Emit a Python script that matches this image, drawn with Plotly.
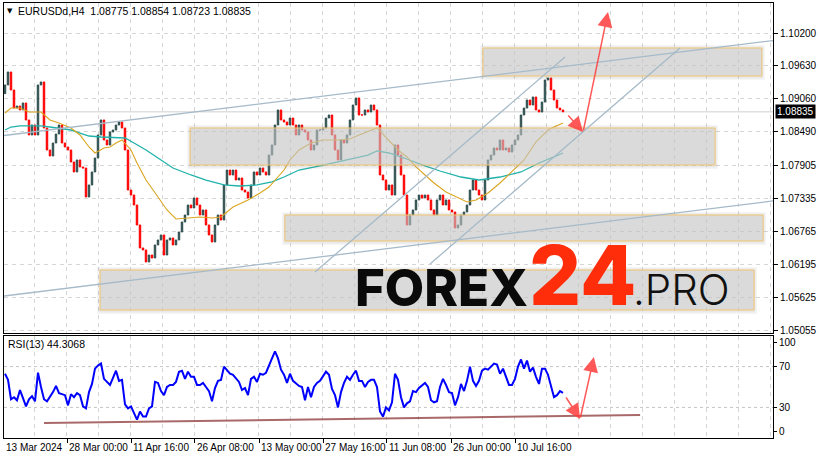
import plotly.graph_objects as go

# ---------------- data ----------------
first_open = 1.09150
closes = [
    1.09300, 1.09525, 1.09213, 1.08901, 1.08936, 1.08867, 1.08988, 1.08694, 1.08434, 1.08607,
    1.08434, 1.09300, 1.09352, 1.08555, 1.08174, 1.08070, 1.08295, 1.08451, 1.08607, 1.08295,
    1.08226, 1.08174, 1.07966, 1.07793, 1.08001, 1.07880, 1.07862, 1.07360, 1.07568, 1.07793,
    1.08035, 1.08434, 1.08694, 1.08347, 1.08261, 1.08486, 1.08520, 1.08607, 1.08659, 1.08555,
    1.08174, 1.07481, 1.07394, 1.07221, 1.06875, 1.06477, 1.06442, 1.06234, 1.06355, 1.06303,
    1.06529, 1.06615, 1.06702, 1.06355, 1.06615, 1.06650, 1.06529, 1.06615, 1.06754, 1.06927,
    1.07048, 1.07221, 1.07170, 1.07343, 1.07221, 1.07048, 1.07135, 1.06875, 1.06702, 1.06580,
    1.06875, 1.07048, 1.06961, 1.07568, 1.07827, 1.07741, 1.07827, 1.07654, 1.07689, 1.07481,
    1.07446, 1.07343, 1.07568, 1.07793, 1.07741, 1.07862, 1.07793, 1.07741, 1.08087, 1.08261,
    1.08607, 1.08867, 1.08694, 1.08659, 1.08607, 1.08728, 1.08607, 1.08434, 1.08607, 1.08520,
    1.08486, 1.08347, 1.08174, 1.08261, 1.08520, 1.08520, 1.08555, 1.08728, 1.08780, 1.08434,
    1.08174, 1.08001, 1.08347, 1.08295, 1.08434, 1.08694, 1.08953, 1.09075, 1.08780, 1.08780,
    1.08867, 1.08832, 1.08953, 1.08867, 1.08607, 1.07741, 1.07654, 1.07481, 1.07568, 1.07394,
    1.08261, 1.08087, 1.07741, 1.07394, 1.06875, 1.07048, 1.07135, 1.07308, 1.07394, 1.07343,
    1.07394, 1.07308, 1.07135, 1.07048, 1.07308, 1.07394, 1.07221, 1.07308, 1.07135, 1.07100,
    1.06823, 1.06875, 1.07048, 1.07100, 1.07221, 1.07481, 1.07654, 1.07481, 1.07394, 1.07308,
    1.07654, 1.08001, 1.08087, 1.08209, 1.08174, 1.08347, 1.08174, 1.08209, 1.08139, 1.08261,
    1.08347, 1.08434, 1.08780, 1.08901, 1.09040, 1.08953, 1.09092, 1.08867, 1.08832, 1.09005,
    1.09386, 1.09421, 1.09213, 1.09040, 1.08901, 1.08867, 1.08835,
]
rsi = [
    63, 57, 38, 40, 37, 47, 39, 31, 38, 41, 36, 64, 50, 38, 36, 40, 45, 51, 44, 43,
    42, 32, 43, 40, 44, 42, 31, 29, 45, 53, 68, 71, 73, 58, 55, 52, 59, 66, 56, 57,
    33, 29, 31, 25, 18, 26, 21, 21, 29, 31, 55, 54, 46, 42, 50, 52, 52, 55, 65, 66,
    58, 65, 60, 60, 52, 52, 54, 50, 46, 36, 49, 56, 57, 70, 66, 63, 62, 59, 55, 47,
    49, 42, 58, 60, 55, 63, 62, 64, 72, 78, 85, 78, 67, 62, 54, 63, 56, 53, 51, 50,
    37, 50, 40, 50, 54, 56, 60, 65, 62, 48, 42, 30, 45, 54, 60, 57, 62, 66, 56, 56,
    50, 55, 57, 57, 50, 26, 21, 30, 27, 35, 63, 57, 40, 30, 34, 36, 46, 45, 49, 52,
    54, 50, 37, 35, 36, 50, 58, 52, 45, 44, 32, 40, 53, 46, 56, 70, 56, 51, 56, 66,
    68, 67, 70, 73, 72, 63, 68, 60, 52, 52, 58, 70, 77, 68, 76, 65, 69, 60, 53, 68,
    68, 62, 52, 40, 42, 46, 44.3068,
]
fast_ma_bars = [0, 2, 5, 8, 12, 15, 18, 22, 25, 28, 30, 33, 35, 37, 39, 42, 44, 47, 51, 54,
                57, 61, 65, 69, 72, 76, 81, 85, 88, 93, 95, 98, 102, 106, 111, 115, 118, 124,
                128, 131, 134, 137, 140, 143, 147, 151, 154, 157, 161, 165, 169, 173, 177,
                181, 183, 186]
fast_ma = [1.08815, 1.08901, 1.08901, 1.08832, 1.08832, 1.08694, 1.08642, 1.08555, 1.08434,
           1.08226, 1.08122, 1.08209, 1.08226, 1.08295, 1.08347, 1.08174, 1.07949, 1.07654,
           1.07360, 1.07135, 1.06979, 1.06996, 1.07014, 1.06996, 1.07014, 1.07187, 1.07308,
           1.07429, 1.07533, 1.07827, 1.08001, 1.08174, 1.08295, 1.08347, 1.08347, 1.08365,
           1.08434, 1.08555, 1.08347, 1.08174, 1.08053, 1.07880, 1.07741, 1.07602, 1.07447,
           1.07343, 1.07273, 1.07308, 1.07429, 1.07602, 1.07793, 1.08001, 1.08313, 1.08520,
           1.08572, 1.08642]
slow_ma_bars = [0, 2, 5, 12, 15, 18, 22, 25, 28, 32, 40, 43, 47, 52, 56, 62, 67, 73, 78, 84,
                89, 93, 98, 105, 111, 116, 121, 124, 128, 133, 137, 140, 145, 152, 158, 165,
                172, 178, 183, 186]
slow_ma = [1.08520, 1.08572, 1.08590, 1.08590, 1.08572, 1.08555, 1.08520, 1.08468, 1.08416,
           1.08399, 1.08382, 1.08295, 1.08174, 1.08001, 1.07862, 1.07741, 1.07654, 1.07568,
           1.07550, 1.07568, 1.07620, 1.07706, 1.07827, 1.07897, 1.07966, 1.08035, 1.08087,
           1.08157, 1.08122, 1.08035, 1.07949, 1.07897, 1.07810, 1.07706, 1.07654, 1.07706,
           1.07793, 1.07949, 1.08053, 1.08122]
price_ticks = [1.10200, 1.09630, 1.09060, 1.08490, 1.07905, 1.07335, 1.06765, 1.06195, 1.05625, 1.05055]
price_labels = ["1.10200", "1.09630", "1.09060", "1.08490", "1.07905", "1.07335", "1.06765",
                "1.06195", "1.05625", "1.05055"]
date_tick_bars = [-0.67, 20.67, 42.0, 63.33, 84.67, 106.0, 127.33, 148.67, 170.0]
date_labels = ["13 Mar 2024", "28 Mar 00:00", "11 Apr 16:00", "26 Apr 08:00", "13 May 00:00",
               "27 May 16:00", "11 Jun 08:00", "26 Jun 00:00", "10 Jul 16:00"]
last_price = 1.08835
last_price_text = "1.08835"
symbol_title = "EURUSDd,H4  1.08775 1.08854 1.08723 1.08835"
rsi_title = "RSI(13) 44.3068"

# zones (bar index from/to, price from/to)
zones = [
    (159.3, 252.3, 1.09456, 1.09941),
    (61.7, 236.7, 1.07914, 1.08555),
    (93.3, 252.7, 1.06598, 1.07048),
    (31.7, 249.7, 1.05403, 1.06095),
]
# trend lines (bar0, price0, bar1, price1)
trend_lines = [
    (-0.33, 1.08425, 256.0, 1.10069),
    (-0.33, 1.05645, 256.0, 1.07291),
    (103.33, 1.06061, 186.67, 1.09785),
    (141.67, 1.06199, 225.0, 1.09941),
]
# forecast arrows (tail bar, tail value, tip bar, tip value)
price_arrows = [(187.3, 1.08797, 192.7, 1.08486), (192.7, 1.08486, 201.0, 1.10564)]
rsi_arrows = [(186.7, 41.2, 191.7, 18.6), (191.7, 18.6, 196.3, 79.4)]
rsi_support = (13.0, 14.7, 211.7, 22.5)

# ---------------- derived ----------------
n = min(len(closes), len(rsi))
bars = list(range(n))
closes = closes[:n]
opens = [first_open] + closes[:-1]
highs = [max(o, c) for o, c in zip(opens, closes)]
lows = [min(o, c) for o, c in zip(opens, closes)]

FONT = "Liberation Sans"
W, H = 819, 460
ML, MR, MT, MB = 4, 46, 3, 22

def py2paper(py):
    return (H - MB - py) / (H - MT - MB)

def px2paper(px):
    return (px - ML) / (W - ML - MR)

X_RANGE = [-0.333, 256.0]
Y_RANGE = [1.05004, 1.10720]
PLOT_W = W - ML - MR
MAIN_H = 330.0
BAR_PER_PX = (X_RANGE[1] - X_RANGE[0]) / PLOT_W
PRICE_PER_PX = (Y_RANGE[1] - Y_RANGE[0]) / MAIN_H

def bar2paper(b):
    return max(0.0, (b - X_RANGE[0]) / (X_RANGE[1] - X_RANGE[0]))

GRID = "#d6d6d6"

fig = go.Figure()
fig.add_trace(go.Candlestick(
    x=bars, open=opens, high=highs, low=lows, close=closes,
    increasing=dict(line=dict(color="#2f4f4f", width=1), fillcolor="#2f4f4f"),
    decreasing=dict(line=dict(color="#ff0000", width=1), fillcolor="#ff0000"),
    whiskerwidth=0, xaxis="x", yaxis="y", showlegend=False, hoverinfo="skip"))
fig.add_trace(go.Scatter(x=slow_ma_bars, y=slow_ma, mode="lines",
                         line=dict(color="#20b2aa", width=1.3), xaxis="x", yaxis="y",
                         showlegend=False, hoverinfo="skip"))
fig.add_trace(go.Scatter(x=fast_ma_bars, y=fast_ma, mode="lines",
                         line=dict(color="#daa520", width=1.1), xaxis="x", yaxis="y",
                         showlegend=False, hoverinfo="skip"))
fig.add_trace(go.Scatter(x=bars, y=rsi[:n], mode="lines",
                         line=dict(color="#0000ff", width=2), xaxis="x2", yaxis="y2",
                         showlegend=False, hoverinfo="skip"))

shapes = []
shapes.append(dict(type="line", xref="x", yref="y", x0=X_RANGE[0], x1=X_RANGE[1],
                   y0=last_price, y1=last_price, line=dict(color="#cfcfcf", width=1),
                   layer="below"))
for lv in (30, 70):
    shapes.append(dict(type="line", xref="x2", yref="y2", x0=X_RANGE[0], x1=X_RANGE[1],
                       y0=lv, y1=lv, line=dict(color="#c4c4c4", width=1, dash="3px,3px"),
                       layer="below"))
for b0, b1, p0, p1 in zones:
    # soft shadow
    for grow, alpha in ((3, 0.07), (1.5, 0.09)):
        shapes.append(dict(type="rect", xref="x", yref="y",
                           x0=b0 - grow * BAR_PER_PX, x1=b1 + grow * BAR_PER_PX,
                           y0=p0 - (grow + 1) * PRICE_PER_PX, y1=p1 + grow * PRICE_PER_PX,
                           fillcolor="rgba(120,120,120,%.2f)" % alpha,
                           line=dict(width=0), layer="above"))
    shapes.append(dict(type="rect", xref="x", yref="y", x0=b0, x1=b1, y0=p0, y1=p1,
                       fillcolor="rgba(205,205,205,0.55)",
                       line=dict(color="#f0c470", width=1), layer="above"))
for b0, p0, b1, p1 in trend_lines:
    shapes.append(dict(type="line", xref="x", yref="y", x0=b0, x1=b1, y0=p0, y1=p1,
                       line=dict(color="#a6bac8", width=1.3), layer="above"))
b0, v0, b1, v1 = rsi_support
shapes.append(dict(type="line", xref="x2", yref="y2", x0=b0, x1=b1, y0=v0, y1=v1,
                   line=dict(color="rgba(140,55,55,0.75)", width=2), layer="above"))

annotations = []
ARROW = "rgba(255,60,60,0.85)"
for tb, tv, hb, hv in price_arrows:
    annotations.append(dict(x=hb, y=hv, ax=tb, ay=tv, xref="x", yref="y", axref="x", ayref="y",
                            showarrow=True, arrowhead=2, arrowsize=2, arrowwidth=1.5,
                            arrowcolor=ARROW, text=""))
for tb, tv, hb, hv in rsi_arrows:
    annotations.append(dict(x=hb, y=hv, ax=tb, ay=tv, xref="x2", yref="y2", axref="x2", ayref="y2",
                            showarrow=True, arrowhead=2, arrowsize=2, arrowwidth=1.5,
                            arrowcolor=ARROW, text=""))
for b, lab in zip(date_tick_bars, date_labels):
    annotations.append(dict(x=bar2paper(b), y=py2paper(447), xref="paper", yref="paper", text=lab,
                            showarrow=False, xanchor="left", yanchor="middle",
                            font=dict(family=FONT, size=10, color="black")))
annotations.append(dict(x=px2paper(10), y=py2paper(11), xref="paper", yref="paper", text="▼",
                        showarrow=False, xanchor="center", yanchor="middle",
                        font=dict(family="DejaVu Sans", size=7, color="black")))
annotations.append(dict(x=px2paper(16), y=py2paper(11), xref="paper", yref="paper",
                        text=symbol_title, showarrow=False, xanchor="left", yanchor="middle",
                        font=dict(family=FONT, size=10.5, color="black")))
annotations.append(dict(x=px2paper(6), y=py2paper(344), xref="paper", yref="paper",
                        text=rsi_title, showarrow=False, xanchor="left", yanchor="middle",
                        font=dict(family=FONT, size=10.5, color="black")))
annotations.append(dict(x=1, y=last_price, xref="paper", yref="y", text=last_price_text,
                        showarrow=False, xanchor="left", yanchor="middle", xshift=2,
                        bgcolor="black", borderpad=1,
                        font=dict(family=FONT, size=10, color="white")))
annotations.append(dict(x=px2paper(353), y=py2paper(287), xref="paper", yref="paper", text="FOREX",
                        showarrow=False, xanchor="left", yanchor="middle",
                        font=dict(family="Inter", size=51, color="#0a0a0a", weight=800)))
annotations.append(dict(x=px2paper(527), y=py2paper(276), xref="paper", yref="paper", text="24",
                        showarrow=False, xanchor="left", yanchor="middle",
                        font=dict(family="Inter", size=82, color="#ff2d0a", weight=800)))
annotations.append(dict(x=px2paper(631), y=py2paper(289), xref="paper", yref="paper", text=".PRO",
                        showarrow=False, xanchor="left", yanchor="middle",
                        font=dict(family="Inter", size=42, color="#111111", weight=300)))

axis_common = dict(showline=True, linecolor="black", linewidth=1, mirror=True, zeroline=False)

fig.update_layout(
    width=W, height=H, margin=dict(l=ML, r=MR, t=MT, b=MB),
    paper_bgcolor="white", plot_bgcolor="white", showlegend=False,
    font=dict(family=FONT, size=10, color="black"),
    xaxis=dict(domain=[0, 1], anchor="y", range=X_RANGE, showticklabels=False,
               tickmode="array", tickvals=date_tick_bars, ticks="", showgrid=False,
               minor=dict(tickmode="linear", tick0=-0.67, dtick=32 / 3, showgrid=True,
                          gridcolor=GRID, griddash="4px,4px", ticks=""),
               rangeslider=dict(visible=False), **axis_common),
    yaxis=dict(domain=[py2paper(333), 1], anchor="x", side="right",
               range=Y_RANGE, tickmode="array", tickvals=price_ticks,
               ticktext=price_labels, ticks="outside", ticklen=4, tickcolor="black",
               showgrid=True, gridcolor=GRID, griddash="4px,4px",
               tickfont=dict(family=FONT, size=10), **axis_common),
    xaxis2=dict(domain=[0, 1], anchor="y2", range=X_RANGE, showticklabels=False,
                tickmode="array", tickvals=date_tick_bars, ticks="outside", ticklen=4,
                tickcolor="black", showgrid=False,
                minor=dict(tickmode="linear", tick0=-0.67, dtick=32 / 3, showgrid=True,
                           gridcolor=GRID, griddash="4px,4px", ticks=""),
                **axis_common),
    yaxis2=dict(domain=[0, py2paper(336)], anchor="x2", side="right", range=[0, 100],
                tickmode="array", tickvals=[6, 30, 70, 94], ticktext=["0", "30", "70", "100"],
                ticks="outside", ticklen=3, tickcolor="black", showgrid=False,
                tickfont=dict(family=FONT, size=10), **axis_common),
    shapes=shapes, annotations=annotations,
)

fig.write_html("out.html", config={"displayModeBar": False},
               post_script="document.body.style.margin='0';document.body.style.overflow='hidden';")
